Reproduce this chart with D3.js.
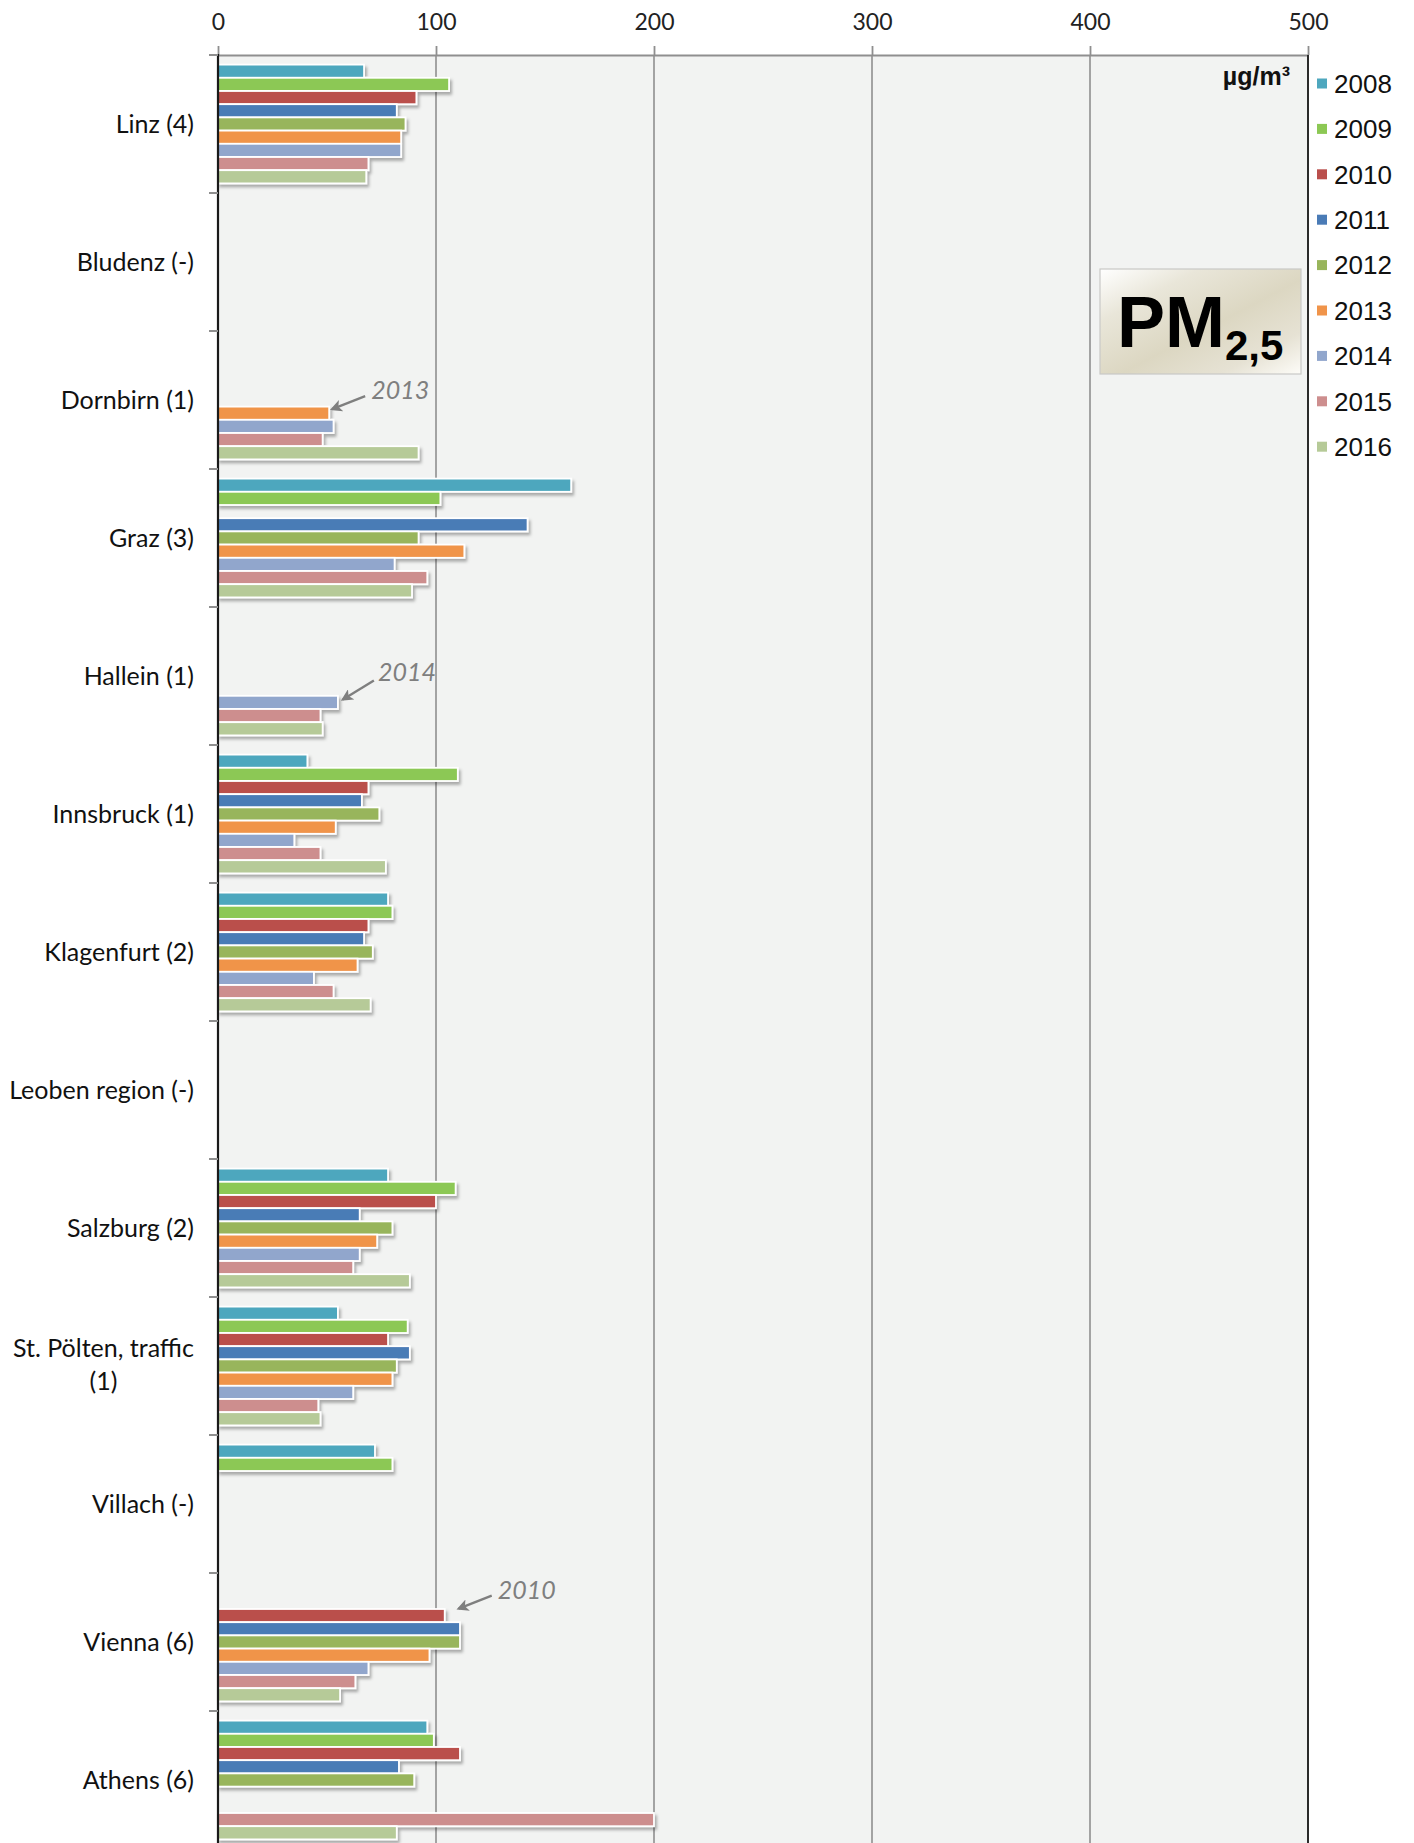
<!DOCTYPE html>
<html><head><meta charset="utf-8">
<script src="https://cdn.jsdelivr.net/npm/d3@7"></script>
<style>body{margin:0;background:#fff;} svg{display:block;}</style>
</head><body>
<script>
// ---------- DATA ----------
const categories = ["Linz (4)", "Bludenz (-)", "Dornbirn (1)", "Graz (3)", "Hallein (1)", "Innsbruck (1)",
  "Klagenfurt (2)", "Leoben region (-)", "Salzburg (2)", "St. Pölten, traffic (1)", "Villach (-)", "Vienna (6)", "Athens (6)"];
const years = ["2008", "2009", "2010", "2011", "2012", "2013", "2014", "2015", "2016"];
const v2008 = [67, null, null, 162, null, 41, 78, null, 78, 55, 72, null, 96];
const v2009 = [106, null, null, 102, null, 110, 80, null, 109, 87, 80, null, 99];
const v2010 = [91, null, null, null, null, 69, 69, null, 100, 78, null, 104, 111];
const v2011 = [82, null, null, 142, null, 66, 67, null, 65, 88, null, 111, 83];
const v2012 = [86, null, null, 92, null, 74, 71, null, 80, 82, null, 111, 90];
const v2013 = [84, null, 51, 113, null, 54, 64, null, 73, 80, null, 97, null];
const v2014 = [84, null, 53, 81, 55, 35, 44, null, 65, 62, null, 69, null];
const v2015 = [69, null, 48, 96, 47, 47, 53, null, 62, 46, null, 63, 200];
const v2016 = [68, null, 92, 89, 48, 77, 70, null, 88, 47, null, 56, 82];
const seriesValues = [v2008, v2009, v2010, v2011, v2012, v2013, v2014, v2015, v2016];
const tickValues = [0, 100, 200, 300, 400, 500];
const unitLabel = "µg/m³";
const annotations = [
  {label: "2013", category: "Dornbirn (1)", year: "2013"},
  {label: "2014", category: "Hallein (1)", year: "2014"},
  {label: "2010", category: "Vienna (6)", year: "2010"}
];

// ---------- STYLE / LAYOUT ----------
const colors = ["#4ea7be", "#8cc854", "#ba4f4c", "#4a7bb6", "#98b55b", "#f0944a", "#91a6cc", "#cd8e8e", "#b6ca98"];
const W = 1414, H = 1843;
const plotLeft = 218, plotRight = 1308, plotTop = 55, bandH = 138;
const catFont = "Lato, 'Open Sans', sans-serif";

const svg = d3.select("body").append("svg").attr("width", W).attr("height", H)
  .style("font-family", catFont);

const defs = svg.append("defs");
const f = defs.append("filter").attr("id", "shadow").attr("x", "-5%").attr("y", "-50%").attr("width", "120%").attr("height", "250%");
f.append("feDropShadow").attr("dx", 2).attr("dy", 3).attr("stdDeviation", 1.6)
  .attr("flood-color", "#000").attr("flood-opacity", 0.3);
const g = defs.append("linearGradient").attr("id", "pmgrad")
  .attr("x1", "0%").attr("y1", "0%").attr("x2", "100%").attr("y2", "100%");
[["0%", "#ffffff"], ["25%", "#e9e6d9"], ["55%", "#dcd7c2"], ["80%", "#e6e2d4"], ["100%", "#fdfcf8"]]
  .forEach(([o, c]) => g.append("stop").attr("offset", o).attr("stop-color", c));
const arrowM = defs.append("marker").attr("id", "arrow").attr("viewBox", "0 0 10 10")
  .attr("refX", 8).attr("refY", 5).attr("markerWidth", 5).attr("markerHeight", 5)
  .attr("orient", "auto-start-reverse").attr("markerUnits", "strokeWidth");
arrowM.append("path").attr("d", "M0,0 L10,5 L0,10 L2.5,5 Z").attr("fill", "#7f7f7f");

const x = d3.scaleLinear().domain([0, 500]).range([plotLeft, plotRight]);
const y = d3.scaleBand().domain(categories).range([plotTop, plotTop + bandH * categories.length]).padding(0);
const yi = d3.scaleBand().domain(years).range([0, bandH]).paddingInner(0).paddingOuter(0.727);

// plot background
svg.append("rect").attr("x", plotLeft).attr("y", plotTop).attr("width", plotRight - plotLeft)
  .attr("height", H - plotTop).attr("fill", "#f2f3f2");

// gridlines
svg.append("g").selectAll("line").data(tickValues.filter(d => d > 0 && d < 500)).join("line")
  .attr("x1", d => x(d)).attr("x2", d => x(d)).attr("y1", plotTop).attr("y2", H)
  .attr("stroke", "#8f8f8f").attr("stroke-width", 1.6);

// top axis
const ax = svg.append("g").attr("transform", `translate(0,${plotTop})`)
  .call(d3.axisTop(x).tickValues(tickValues).tickSize(9).tickPadding(16).tickSizeOuter(0));
ax.select(".domain").attr("stroke", "#8f8f8f").attr("stroke-width", 2.2);
ax.selectAll(".tick line").attr("stroke", "#8f8f8f").attr("stroke-width", 1.8);
ax.selectAll(".tick text").attr("font-size", 23).attr("fill", "#222").style("font-family", catFont);

// right border
svg.append("line").attr("x1", plotRight).attr("x2", plotRight).attr("y1", plotTop).attr("y2", H)
  .attr("stroke", "#2b2b2b").attr("stroke-width", 2);

// bars
const barG = svg.append("g").attr("filter", "url(#shadow)");
years.forEach((yr, i) => {
  const data = categories.map((c, j) => ({c, v: seriesValues[i][j]})).filter(d => d.v != null);
  barG.append("g").selectAll("rect").data(data).join("rect")
    .attr("x", x(0)).attr("y", d => y(d.c) + yi(yr))
    .attr("width", d => x(d.v) - x(0)).attr("height", yi.bandwidth())
    .attr("fill", colors[i]).attr("stroke", "#fff").attr("stroke-width", 1.8);
});

// left axis with boundary ticks
svg.append("line").attr("x1", plotLeft).attr("x2", plotLeft).attr("y1", plotTop - 1).attr("y2", H)
  .attr("stroke", "#1a1a1a").attr("stroke-width", 2.2);
svg.append("g").selectAll("line").data(categories).join("line")
  .attr("x1", plotLeft - 9).attr("x2", plotLeft).attr("y1", d => y(d)).attr("y2", d => y(d))
  .attr("stroke", "#8f8f8f").attr("stroke-width", 2);

// category labels (wrapped when too wide)
const labelRight = 194, maxLabelW = 205;
const lab = svg.append("g").attr("font-size", 25).attr("fill", "#111");
categories.forEach(c => {
  const cy = y(c) + y.bandwidth() / 2;
  const t = lab.append("text").attr("x", labelRight).attr("y", cy).attr("dy", "0.35em")
    .attr("text-anchor", "end").text(c);
  if (t.node().getComputedTextLength() > maxLabelW) {
    const words = c.split(" ");
    const l2 = words.pop(), l1 = words.join(" ");
    t.remove();
    const tmp = lab.append("text").text(l1);
    const w1 = tmp.node().getComputedTextLength();
    tmp.remove();
    const cx = labelRight - w1 / 2;
    const tt = lab.append("text").attr("text-anchor", "middle");
    tt.append("tspan").attr("x", cx).attr("y", cy - 18).attr("dy", "0.35em").text(l1);
    tt.append("tspan").attr("x", cx).attr("y", cy + 15).attr("dy", "0.35em").text(l2);
  }
});

// annotations
const annOffsets = [
  {tdx: 1, tdy: -3, ax: 35, ay: -14, lx: 41, ly: -11},
  {tdx: 3, tdy: -2, ax: 33, ay: -20, lx: 37, ly: -19},
  {tdx: 12, tdy: -6, ax: 35, ay: -14, lx: 41, ly: -11}
];
annotations.forEach((a, k) => {
  const yr = years.indexOf(a.year), ci = categories.indexOf(a.category);
  const v = seriesValues[yr][ci];
  const o = annOffsets[k];
  const tx = x(v) + o.tdx, ty = y(a.category) + yi(a.year) + yi.bandwidth() / 2 + o.tdy;
  svg.append("line").attr("x1", tx + o.ax).attr("y1", ty + o.ay).attr("x2", tx + 2).attr("y2", ty - 1)
    .attr("stroke", "#7f7f7f").attr("stroke-width", 2.4).attr("marker-end", "url(#arrow)");
  svg.append("text").attr("x", tx + o.lx).attr("y", ty + o.ly).attr("font-size", 25)
    .attr("font-style", "italic").attr("fill", "#7f7f7f").text(a.label);
});

// unit label
svg.append("text").attr("x", 1290).attr("y", 85).attr("text-anchor", "end")
  .attr("font-family", "'Liberation Sans', Arial, sans-serif").attr("font-weight", "bold")
  .attr("font-size", 25).attr("fill", "#111").text(unitLabel);

// PM2,5 box
svg.append("rect").attr("x", 1100).attr("y", 269).attr("width", 201).attr("height", 105)
  .attr("fill", "url(#pmgrad)").attr("stroke", "#c9c9c6").attr("stroke-width", 1.2);
const pm = svg.append("text").attr("x", 1117).attr("y", 347)
  .attr("font-family", "'Liberation Sans', Arial, sans-serif").attr("font-weight", "bold").attr("fill", "#000");
pm.append("tspan").attr("font-size", 72).text("PM");
pm.append("tspan").attr("font-size", 42).attr("dy", 13).text("2,5");

// legend
const leg = svg.append("g").attr("font-family", "'Liberation Sans', Arial, sans-serif");
years.forEach((yr, i) => {
  const cy = 83.5 + i * 45.4;
  leg.append("rect").attr("x", 1317).attr("y", cy - 5).attr("width", 10).attr("height", 10).attr("fill", colors[i]);
  leg.append("text").attr("x", 1334).attr("y", cy).attr("dy", "0.36em").attr("font-size", 26)
    .attr("fill", "#111").text(yr);
});
</script>
</body></html>
